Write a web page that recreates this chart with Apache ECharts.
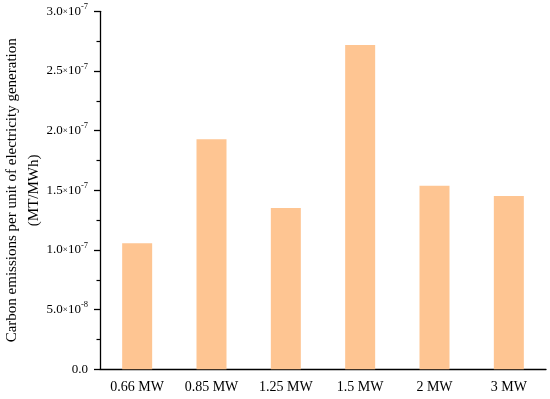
<!DOCTYPE html>
<html><head><meta charset="utf-8">
<script src="https://cdn.jsdelivr.net/npm/echarts@6/dist/echarts.min.js"></script>
<style>html,body{margin:0;padding:0;background:#fff}#c{width:550px;height:399px}</style>
</head><body><div id="c"></div>
<script>
const categories = ['0.66 MW', '0.85 MW', '1.25 MW', '1.5 MW', '2 MW', '3 MW'];
const emissions = [1.056e-7, 1.928e-7, 1.352e-7, 2.718e-7, 1.539e-7, 1.453e-7];
const yTickLabels = {
  '0': ['0.0', null, null],
  '5e-8': ['5.0', '10', '-8'],
  '1e-7': ['1.0', '10', '-7'],
  '1.5e-7': ['1.5', '10', '-7'],
  '2e-7': ['2.0', '10', '-7'],
  '2.5e-7': ['2.5', '10', '-7'],
  '3e-7': ['3.0', '10', '-7']
};
const yName = 'Carbon emissions per unit of electricity generation\n(MT/MWh)';

const font = 'Liberation Serif';
const chart = echarts.init(document.getElementById('c'));
function fmt(v) {
  const key = String(Number(v.toPrecision(3)));
  const t = yTickLabels[key];
  if (!t) return '';
  if (!t[1]) return '{m|' + t[0] + '}';
  return '{m|' + t[0] + '}{x|×}{m|' + t[1] + '}{s|' + t[2] + '}';
}
chart.setOption({
  animation: false,
  grid: { left: 100, right: 4, top: 11.3, bottom: 29.7, containLabel: false, outerBoundsMode: 'none' },
  xAxis: [{
    type: 'category', data: categories, position: 'bottom',
    axisLine: { lineStyle: { color: '#000', width: 1.3 } },
    axisTick: { alignWithLabel: true, length: 6, lineStyle: { color: '#000', width: 1.3 } },
    axisLabel: { color: '#000', fontFamily: font, fontSize: 14, margin: 11.5, interval: 0 }
  }, {
    type: 'category', data: categories, position: 'bottom',
    axisLine: { show: false },
    axisTick: { length: 4, lineStyle: { color: '#000', width: 1.2 } },
    axisLabel: { show: false }
  }],
  yAxis: {
    type: 'value', min: 0, max: 3e-7, interval: 5e-8,
    name: yName, nameLocation: 'middle', nameGap: 55, nameRotate: 90, nameMoveOverlap: false,
    nameTextStyle: { color: '#000', fontFamily: font, fontSize: 15, lineHeight: 22 },
    axisLine: { show: true, lineStyle: { color: '#000', width: 1.3 } },
    axisTick: { show: true, length: 6, lineStyle: { color: '#000', width: 1.3 } },
    minorTick: { show: true, splitNumber: 2, length: 3.5, lineStyle: { color: '#000', width: 1.2 } },
    splitLine: { show: false },
    axisLabel: {
      margin: 12, formatter: fmt,
      rich: {
        m: { fontFamily: font, fontSize: 13, color: '#000' },
        x: { fontFamily: font, fontSize: 9, color: '#000' },
        s: { fontFamily: font, fontSize: 8.5, color: '#000', verticalAlign: 'top', padding: [0, 0, 9, 0] }
      }
    }
  },
  series: [{
    type: 'bar', data: emissions, barWidth: 30, xAxisIndex: 0,
    itemStyle: { color: '#FEC592' }
  }]
});
</script></body></html>
